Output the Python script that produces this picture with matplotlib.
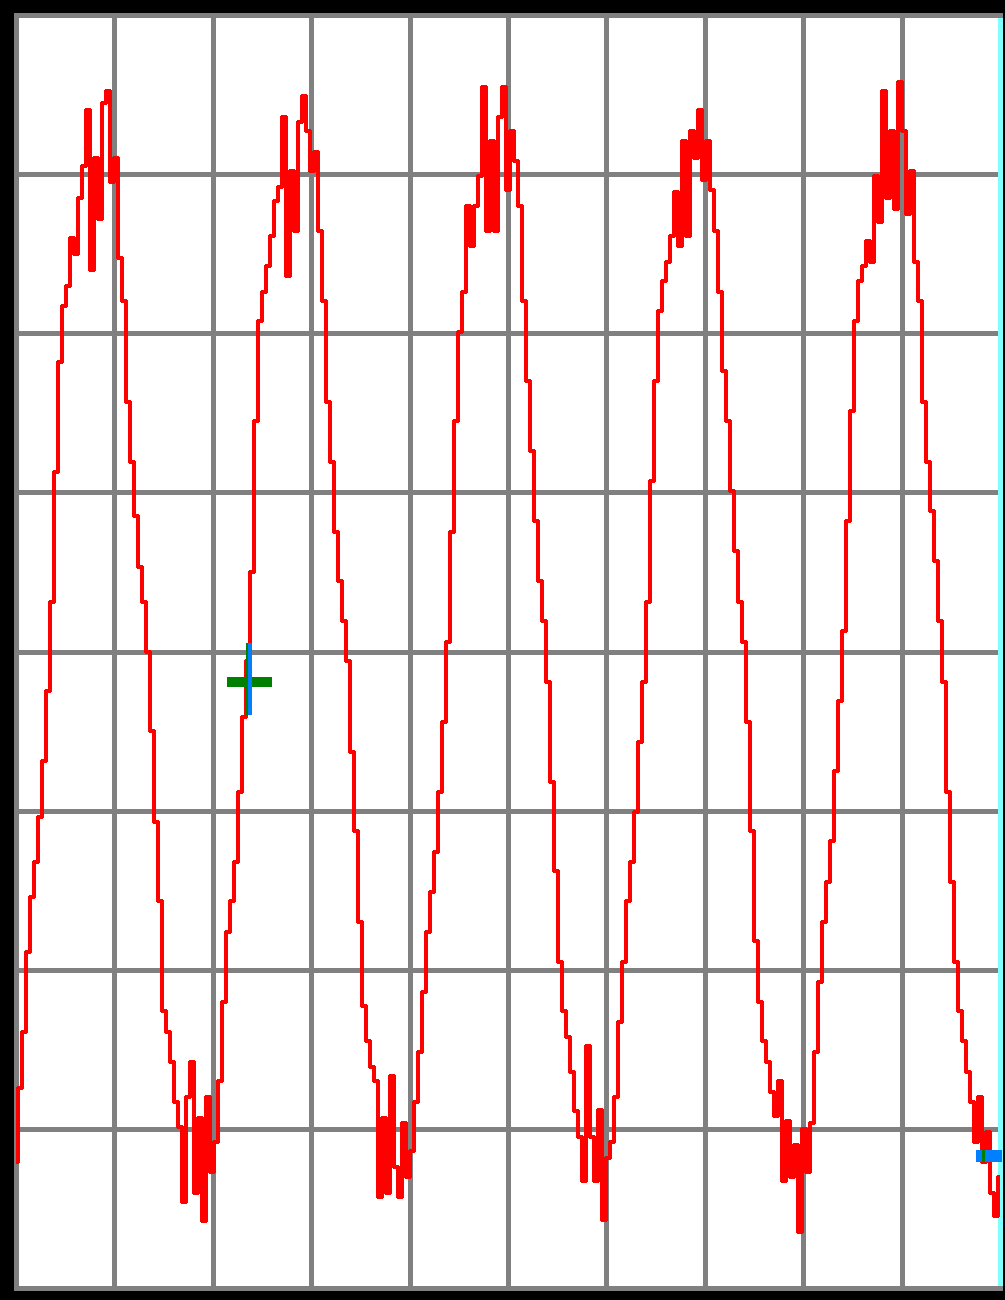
import numpy as np
import matplotlib
matplotlib.use("Agg")
import matplotlib.pyplot as plt

# scope trace, volts in divisions, sampled evenly across the 10 horizontal divisions
trace_div = [
    -3.21, -2.74, -2.39, -1.89, -1.54, -1.32, -1.04, -0.69, -0.25, 0.31,
    1.13, 1.82, 2.17, 2.30, 2.60, 2.50, 2.85, 3.05, 3.40, 2.40,
    3.10, 2.72, 3.45, 3.52, 2.95, 3.10, 2.47, 2.20, 1.57, 1.19,
    0.85, 0.53, 0.31, 0.00, -0.50, -1.07, -1.57, -2.26, -2.39, -2.58,
    -2.83, -2.99, -3.46, -2.80, -2.58, -3.40, -2.93, -3.58, -2.80, -3.27,
    -3.08, -2.70, -2.20, -1.76, -1.57, -1.32, -0.88, -0.41, -0.06, 0.50,
    1.45, 2.08, 2.26, 2.42, 2.61, 2.83, 2.92, 3.36, 2.36, 3.02,
    2.64, 3.33, 3.49, 3.27, 3.02, 3.14, 2.64, 2.20, 1.57, 1.19,
    0.75, 0.44, 0.19, -0.06, -0.63, -1.13, -1.70, -2.23, -2.45, -2.61,
    -2.70, -3.43, -2.93, -3.40, -2.67, -3.24, -3.43, -2.96, -3.30, -3.14,
    -2.83, -2.52, -2.14, -1.76, -1.51, -1.26, -0.88, -0.44, 0.06, 0.75,
    1.45, 2.01, 2.26, 2.80, 2.55, 2.80, 2.99, 3.55, 2.64, 3.21,
    2.64, 3.36, 3.55, 2.90, 3.27, 3.08, 2.80, 2.20, 1.70, 1.26,
    0.82, 0.44, 0.19, -0.19, -0.82, -1.38, -1.95, -2.26, -2.42, -2.64,
    -2.89, -3.05, -3.33, -2.48, -3.05, -3.33, -2.88, -3.57, -3.18, -3.08,
    -2.80, -2.33, -1.95, -1.57, -1.32, -1.01, -0.57, -0.19, 0.31, 1.07,
    1.70, 2.14, 2.33, 2.45, 2.61, 2.89, 2.55, 3.21, 2.61, 3.27,
    3.10, 3.40, 2.96, 3.21, 2.90, 2.64, 2.26, 1.76, 1.45, 1.01,
    0.63, 0.31, 0.06, -0.44, -1.13, -1.82, -2.20, -2.45, -2.58, -2.77,
    -2.92, -2.70, -3.33, -2.95, -3.30, -3.10, -3.65, -3.00, -3.27, -2.96,
    -2.52, -2.08, -1.70, -1.45, -1.19, -0.75, -0.31, 0.13, 0.82, 1.51,
    2.08, 2.33, 2.42, 2.58, 2.45, 2.99, 2.70, 3.52, 2.85, 3.27,
    2.78, 3.58, 3.27, 2.75, 3.02, 2.45, 2.20, 1.57, 1.19, 0.88,
    0.57, 0.19, -0.19, -0.88, -1.45, -1.95, -2.26, -2.45, -2.64, -2.83,
    -3.08, -2.80, -3.21, -3.02, -3.40, -3.55, -3.30,
]

x_divs = list(range(0, 11))
y_divs = list(range(-4, 5))

# cursor marker and ground reference marker
cursor_t, cursor_v = 2.37, -0.19
ground_v = -3.17

GRAY = "#808080"
RED = "#ff0000"
GREEN = "#008000"
BLUE = "#0080ff"
CYAN = "#80ffff"

plt.rcParams["lines.antialiased"] = False
plt.rcParams["patch.antialiased"] = False

fig = plt.figure(figsize=(10.05, 13.0), dpi=100, facecolor="black")
ax = fig.add_axes([16 / 1005, 12 / 1300, 984 / 1005, 1273 / 1300])
ax.set_facecolor("white")

ax.set_xlim(0, 10)
ax.set_ylim(-4, 4)
ax.set_xticks(x_divs)
ax.set_yticks(y_divs)
ax.tick_params(length=0, labelbottom=False, labelleft=False)
ax.grid(True, color=GRAY, lw=2.2)
ax.set_axisbelow(True)

# thicker centre graticule
ax.axvline(5, color=GRAY, lw=3.6, zorder=1)
ax.axhline(0, color=GRAY, lw=3.6, zorder=1)

for side in ["left", "top", "bottom"]:
    ax.spines[side].set_color(GRAY)
    ax.spines[side].set_linewidth(2.2)
ax.spines["right"].set_color(CYAN)
ax.spines["right"].set_linewidth(2.2)

t = np.linspace(0, 10, len(trace_div))
ax.plot(t, trace_div, drawstyle="steps-mid", color=RED, lw=1.6, zorder=3)

# trigger cursor
ax.plot([cursor_t - 0.23, cursor_t + 0.23], [cursor_v, cursor_v],
        color=GREEN, lw=6, solid_capstyle="butt", zorder=4)
ax.plot([cursor_t, cursor_t], [cursor_v - 0.21, cursor_v + 0.245],
        color=BLUE, lw=3.0, solid_capstyle="butt", zorder=5)
ax.plot([cursor_t - 0.02, cursor_t - 0.02], [cursor_v - 0.21, cursor_v + 0.245],
        color=GREEN, lw=1.4, solid_capstyle="butt", zorder=5)

# ground level marker on right edge
ax.plot([9.76, 10.02], [ground_v, ground_v], color=BLUE, lw=8.6,
        solid_capstyle="butt", zorder=5, clip_on=False)
ax.plot([9.82, 9.85], [ground_v, ground_v], color=GREEN, lw=8.6,
        solid_capstyle="butt", zorder=6, clip_on=False)

fig.savefig("out.png", dpi=100, facecolor="black")
